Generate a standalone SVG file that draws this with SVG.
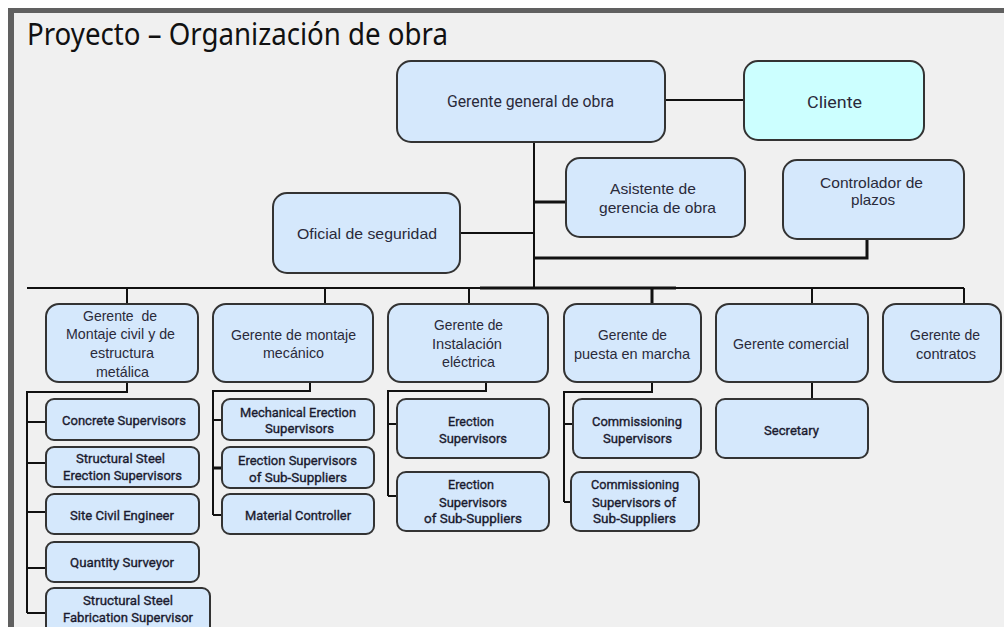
<svg xmlns="http://www.w3.org/2000/svg" width="1004" height="627" viewBox="0 0 1004 627">
<style>
.bx{fill:#d5e8fc;stroke:#333;stroke-width:2}
.cl{fill:#ccffff;stroke:#333;stroke-width:2}
.ln{fill:none;stroke:#111;stroke-width:2}
.tk{fill:none;stroke:#111;stroke-width:3}
.t1{font-family:Roboto,"Liberation Sans",sans-serif;font-size:16px;fill:#2a2a3a;text-anchor:middle}
.t2{font-family:"Liberation Sans",Arial,sans-serif;font-size:15px;fill:#2a2a3a;text-anchor:middle}
.t3{font-family:Roboto,"Liberation Sans",sans-serif;font-size:13.5px;font-weight:400;fill:#1a1a2e;stroke:#1a1a2e;stroke-width:0.35;text-anchor:middle}
</style>
<rect x="0" y="0" width="1004" height="627" fill="#ffffff"/>
<rect x="8" y="8" width="996" height="619" fill="#606060"/>
<rect x="14" y="13" width="990" height="614" fill="#f0f0f0"/>
<text x="27" y="45" font-family="'Noto Sans','Liberation Sans',sans-serif" font-size="30" fill="#111" textLength="421" lengthAdjust="spacingAndGlyphs">Proyecto – Organización de obra</text>

<g id="connectors">
<path class="ln" d="M665,100 H744"/>
<path class="ln" d="M534,141 V288"/>
<path class="tk" d="M534,202 H566"/>
<path class="ln" d="M460,233 H534"/>
<path class="tk" d="M867,239 V258 H534"/>
<path class="ln" d="M27,288 H964"/>
<path class="tk" d="M480,288 H676"/>
<path class="ln" d="M127,288 V304 M325,288 V304 M469,288 V304 M812,288 V304 M964,288 V304"/>
<path class="tk" d="M652,288 V304"/>
<path class="ln" d="M127,382 V392 H27 V613 M27,422 H46 M27,463 H46 M27,512 H46 M27,568 H46 M27,613 H46"/>
<path class="ln" d="M310,382 V391 H213 V515 M213,420 H222 M213,515 H222"/>
<path class="tk" d="M213,468 H222"/>
<path class="ln" d="M486,382 V391 H388 V496 M388,424 H397 M388,496 H397"/>
<path class="ln" d="M652,382 V392 H564 V502 M564,424 H573 M564,502 H571"/>
<path class="ln" d="M812,382 V399"/>
</g>

<g id="gerente-general"><rect class="bx" x="397" y="61" width="268" height="81" rx="14"/><text class="t1" x="530.5" y="107" textLength="167" lengthAdjust="spacingAndGlyphs">Gerente general de obra</text></g>
<g id="cliente"><rect class="cl" x="744" y="61" width="180" height="79" rx="14"/><text class="t1" x="834.5" y="108" font-size="19" textLength="55" lengthAdjust="spacingAndGlyphs">Cliente</text></g>
<g id="asistente"><rect class="bx" x="566" y="158" width="179" height="79" rx="14"/><text class="t2" x="653" y="194" font-size="16" textLength="86" lengthAdjust="spacingAndGlyphs">Asistente de</text><text class="t2" x="657.5" y="213" font-size="16" textLength="117" lengthAdjust="spacingAndGlyphs">gerencia de obra</text></g>
<g id="controlador"><rect class="bx" x="783" y="160" width="181" height="79" rx="14"/><text class="t2" x="871.5" y="188" font-size="16" textLength="103" lengthAdjust="spacingAndGlyphs">Controlador de</text><text class="t2" x="873" y="205" font-size="16" textLength="44" lengthAdjust="spacingAndGlyphs">plazos</text></g>
<g id="oficial"><rect class="bx" x="273" y="193" width="187" height="80" rx="14"/><text class="t2" x="367" y="239" font-size="16" textLength="140" lengthAdjust="spacingAndGlyphs">Oficial de seguridad</text></g>

<g id="gerente-civil"><rect class="bx" x="46" y="304" width="152" height="78" rx="13"/>
<text class="t2" x="120" y="321" xml:space="preserve" textLength="74" lengthAdjust="spacingAndGlyphs">Gerente  de</text>
<text class="t2" x="120.5" y="339" textLength="109" lengthAdjust="spacingAndGlyphs">Montaje civil y de</text>
<text class="t2" x="122" y="358" textLength="64" lengthAdjust="spacingAndGlyphs">estructura</text>
<text class="t2" x="122.5" y="377" textLength="53" lengthAdjust="spacingAndGlyphs">metálica</text></g>
<g id="gerente-mecanico"><rect class="bx" x="213" y="304" width="160" height="78" rx="13"/>
<text class="t2" x="293.5" y="340" textLength="125" lengthAdjust="spacingAndGlyphs">Gerente de montaje</text>
<text class="t2" x="293.5" y="358" textLength="61" lengthAdjust="spacingAndGlyphs">mecánico</text></g>
<g id="gerente-electrico"><rect class="bx" x="388" y="304" width="160" height="78" rx="13"/>
<text class="t2" x="468.5" y="330" textLength="69" lengthAdjust="spacingAndGlyphs">Gerente de</text>
<text class="t2" x="467" y="349" textLength="70" lengthAdjust="spacingAndGlyphs">Instalación</text>
<text class="t2" x="468.5" y="367" textLength="53" lengthAdjust="spacingAndGlyphs">eléctrica</text></g>
<g id="gerente-puesta"><rect class="bx" x="564" y="304" width="137" height="78" rx="13"/>
<text class="t2" x="632.5" y="340" textLength="69" lengthAdjust="spacingAndGlyphs">Gerente de</text>
<text class="t2" x="632" y="359" textLength="116" lengthAdjust="spacingAndGlyphs">puesta en marcha</text></g>
<g id="gerente-comercial"><rect class="bx" x="716" y="304" width="152" height="78" rx="13"/>
<text class="t2" x="791" y="349" textLength="116" lengthAdjust="spacingAndGlyphs">Gerente comercial</text></g>
<g id="gerente-contratos"><rect class="bx" x="883" y="304" width="118" height="78" rx="13"/>
<text class="t2" x="945" y="340" textLength="70" lengthAdjust="spacingAndGlyphs">Gerente de</text>
<text class="t2" x="946" y="359" textLength="60" lengthAdjust="spacingAndGlyphs">contratos</text></g>

<g id="secretary"><rect class="bx" x="716" y="399" width="152" height="59" rx="9"/><text class="t3" x="791.5" y="435" textLength="55" lengthAdjust="spacingAndGlyphs">Secretary</text></g>

<g id="concrete"><rect class="bx" x="46" y="399" width="153" height="41" rx="8"/><text class="t3" x="124" y="425" textLength="124" lengthAdjust="spacingAndGlyphs">Concrete Supervisors</text></g>
<g id="steel-erection"><rect class="bx" x="46" y="447" width="153" height="40" rx="8"/><text class="t3" x="120.5" y="463" textLength="89" lengthAdjust="spacingAndGlyphs">Structural Steel</text><text class="t3" x="122.5" y="480" textLength="119" lengthAdjust="spacingAndGlyphs">Erection Supervisors</text></g>
<g id="site-civil"><rect class="bx" x="46" y="494" width="153" height="40" rx="8"/><text class="t3" x="122" y="520" textLength="104" lengthAdjust="spacingAndGlyphs">Site Civil Engineer</text></g>
<g id="quantity"><rect class="bx" x="46" y="542" width="153" height="40" rx="8"/><text class="t3" x="122" y="567" textLength="104" lengthAdjust="spacingAndGlyphs">Quantity Surveyor</text></g>
<g id="steel-fabrication"><rect class="bx" x="46" y="588" width="164" height="48" rx="8"/><text class="t3" x="128" y="605" textLength="90" lengthAdjust="spacingAndGlyphs">Structural Steel</text><text class="t3" x="128" y="622" textLength="130" lengthAdjust="spacingAndGlyphs">Fabrication Supervisor</text></g>

<g id="mech-erection"><rect class="bx" x="222" y="399" width="152" height="41" rx="8"/><text class="t3" x="298" y="417" textLength="116" lengthAdjust="spacingAndGlyphs">Mechanical Erection</text><text class="t3" x="299.5" y="433" textLength="69" lengthAdjust="spacingAndGlyphs">Supervisors</text></g>
<g id="mech-sub"><rect class="bx" x="222" y="447" width="152" height="41" rx="8"/><text class="t3" x="297.5" y="465" textLength="119" lengthAdjust="spacingAndGlyphs">Erection Supervisors</text><text class="t3" x="298" y="482" textLength="98" lengthAdjust="spacingAndGlyphs">of Sub-Suppliers</text></g>
<g id="material"><rect class="bx" x="222" y="494" width="152" height="40" rx="8"/><text class="t3" x="298" y="520" textLength="106" lengthAdjust="spacingAndGlyphs">Material Controller</text></g>

<g id="elec-erection"><rect class="bx" x="397" y="399" width="152" height="59" rx="9"/><text class="t3" x="471" y="426" textLength="46" lengthAdjust="spacingAndGlyphs">Erection</text><text class="t3" x="473" y="443" textLength="68" lengthAdjust="spacingAndGlyphs">Supervisors</text></g>
<g id="elec-sub"><rect class="bx" x="397" y="472" width="152" height="59" rx="9"/><text class="t3" x="471" y="489" textLength="46" lengthAdjust="spacingAndGlyphs">Erection</text><text class="t3" x="473" y="507" textLength="68" lengthAdjust="spacingAndGlyphs">Supervisors</text><text class="t3" x="473" y="523" textLength="98" lengthAdjust="spacingAndGlyphs">of Sub-Suppliers</text></g>

<g id="comm-sup"><rect class="bx" x="573" y="399" width="128" height="59" rx="9"/><text class="t3" x="637" y="426" textLength="90" lengthAdjust="spacingAndGlyphs">Commissioning</text><text class="t3" x="637.5" y="443" textLength="69" lengthAdjust="spacingAndGlyphs">Supervisors</text></g>
<g id="comm-sub"><rect class="bx" x="571" y="472" width="128" height="59" rx="9"/><text class="t3" x="635" y="489" textLength="88" lengthAdjust="spacingAndGlyphs">Commissioning</text><text class="t3" x="634" y="507" textLength="84" lengthAdjust="spacingAndGlyphs">Supervisors of</text><text class="t3" x="634.5" y="523" textLength="83" lengthAdjust="spacingAndGlyphs">Sub-Suppliers</text></g>
</svg>
